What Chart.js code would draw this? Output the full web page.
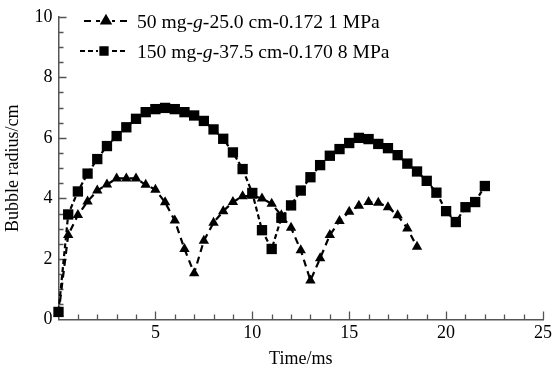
<!DOCTYPE html>
<html lang="en">
<head>
<meta charset="UTF-8" />
<title>Bubble radius vs time</title>
<style>
  html, body { margin: 0; padding: 0; background: #fff; }
  canvas { display: block; }
</style>
<script src="https://cdn.jsdelivr.net/npm/chart.js"></script>
</head>
<body>
<canvas id="chart" width="555" height="372"></canvas>
<script>
// 50 mg-g-25.0 cm-0.172 1 MPa (triangles)
const time50 = [0, 0.5, 1, 1.5, 2, 2.5, 3, 3.5, 4, 4.5, 5, 5.5, 6, 6.5, 7, 7.5, 8, 8.5, 9, 9.5,
  10, 10.5, 11, 11.5, 12, 12.5, 13, 13.5, 14, 14.5, 15, 15.5, 16, 16.5, 17, 17.5, 18, 18.5];
const radius50 = [0.2, 2.79, 3.45, 3.9, 4.26, 4.46, 4.66, 4.66, 4.66, 4.45, 4.29, 3.87, 3.27, 2.33, 1.53, 2.6, 3.2, 3.58, 3.88, 4.07,
  4.09, 4.0, 3.82, 3.44, 3.03, 2.29, 1.29, 2.02, 2.79, 3.25, 3.56, 3.76, 3.88, 3.86, 3.71, 3.44, 3.01, 2.4];

// 150 mg-g-37.5 cm-0.170 8 MPa (squares)
const time150 = [0, 0.5, 1, 1.5, 2, 2.5, 3, 3.5, 4, 4.5, 5, 5.5, 6, 6.5, 7, 7.5, 8, 8.5, 9, 9.5,
  10, 10.5, 11, 11.5, 12, 12.5, 13, 13.5, 14, 14.5, 15, 15.5, 16, 16.5, 17, 17.5, 18, 18.5, 19, 19.5,
  20, 20.5, 21, 21.5, 22];
const radius150 = [0.25, 3.47, 4.23, 4.82, 5.3, 5.73, 6.06, 6.35, 6.63, 6.85, 6.95, 6.99, 6.95, 6.85, 6.74, 6.56, 6.28, 5.97, 5.52, 4.97,
  4.18, 2.95, 2.33, 3.36, 3.77, 4.26, 4.7, 5.1, 5.41, 5.63, 5.83, 6.0, 5.96, 5.8, 5.66, 5.43, 5.15, 4.89, 4.58, 4.19,
  3.58, 3.22, 3.71, 3.88, 4.41];

const xTicks = [5, 10, 15, 20, 25];
const yTicks = [0, 2, 4, 6, 8, 10];

const serif = '"Liberation Serif", "DejaVu Serif", serif';
const axisColor = "#555";

function toPoints(xs, ys) {
  return xs.map((x, i) => ({ x: x, y: ys[i] }));
}

// inward tick marks (minor + major), drawn under the markers
const tickMarks = {
  id: "tickMarks",
  beforeDatasetsDraw(chart) {
    const { ctx, chartArea, scales } = chart;
    ctx.save();
    ctx.strokeStyle = axisColor;
    ctx.lineWidth = 1.3;
    ctx.beginPath();
    for (let t = 1; t <= 25; t++) {
      const x = Math.round(scales.x.getPixelForValue(t)) + 0.5;
      const len = t % 5 === 0 ? 8 : 5;
      ctx.moveTo(x, chartArea.bottom);
      ctx.lineTo(x, chartArea.bottom - len);
    }
    for (let v = 0.5; v <= 10; v += 0.5) {
      const y = Math.round(scales.y.getPixelForValue(v)) + 0.5;
      const len = v % 2 === 0 ? 8 : 5;
      ctx.moveTo(chartArea.left, y);
      ctx.lineTo(chartArea.left + len, y);
    }
    ctx.stroke();
    ctx.restore();
  },
};

// legend with an italic "g"
const legendRows = [
  { parts: ["50 mg-", "g", "-25.0 cm-0.172 1 MPa"], dash: [7, 5], marker: "triangle", y: 21, x0: 84, x1: 128 },
  { parts: ["150 mg-", "g", "-37.5 cm-0.170 8 MPa"], dash: [5, 3], marker: "rect", y: 51, x0: 80, x1: 128 },
];
const customLegend = {
  id: "customLegend",
  afterDraw(chart) {
    const ctx = chart.ctx;
    ctx.save();
    legendRows.forEach((row) => {
      ctx.strokeStyle = "#000";
      ctx.lineWidth = 2.2;
      ctx.setLineDash(row.dash);
      ctx.beginPath();
      ctx.moveTo(row.x0, row.y);
      ctx.lineTo(row.x1, row.y);
      ctx.stroke();
      ctx.setLineDash([]);
      const cx = (row.x0 + row.x1) / 2;
      ctx.fillStyle = "#fff";
      ctx.fillRect(cx - 6, row.y - 6, 12, 12);
      Chart.helpers.drawPoint(ctx, { pointStyle: row.marker, radius: 5, borderWidth: 1 }, cx, row.y);
      ctx.fillStyle = "#000";
      ctx.fill();
      let x = 137;
      ctx.textBaseline = "alphabetic";
      row.parts.forEach((txt, i) => {
        ctx.font = (i === 1 ? "italic " : "") + "19.6px " + serif;
        ctx.fillText(txt, x, row.y + 7);
        x += ctx.measureText(txt).width;
      });
    });
    ctx.restore();
  },
};

new Chart(document.getElementById("chart"), {
  type: "line",
  data: {
    datasets: [
      {
        label: "50 mg-g-25.0 cm-0.172 1 MPa",
        data: toPoints(time50, radius50),
        borderColor: "#000",
        backgroundColor: "#000",
        borderWidth: 2.2,
        borderDash: [7, 5],
        pointStyle: "triangle",
        pointRadius: 6,
        pointBorderWidth: 0,
        tension: 0,
      },
      {
        label: "150 mg-g-37.5 cm-0.170 8 MPa",
        data: toPoints(time150, radius150),
        borderColor: "#000",
        backgroundColor: "#000",
        borderWidth: 2.2,
        borderDash: [5, 3],
        pointStyle: "rect",
        pointRadius: 7.3,
        pointBorderWidth: 0,
        tension: 0,
      },
    ],
  },
  options: {
    responsive: false,
    animation: false,
    clip: false,
    layout: { padding: { top: 15, right: 10, left: 0, bottom: 0 } },
    plugins: {
      legend: { display: false },
      tooltip: { enabled: false },
    },
    scales: {
      x: {
        type: "linear",
        min: 0,
        max: 25,
        afterBuildTicks(scale) {
          scale.ticks = xTicks.map((v) => ({ value: v }));
        },
        afterFit(scale) {
          scale.height = 52.5;
        },
        ticks: {
          color: "#000",
          padding: 3,
          font: { family: serif, size: 18 },
        },
        grid: { display: false, drawTicks: false },
        border: { display: true, color: axisColor, width: 1.5 },
        title: {
          display: true,
          text: "Time/ms",
          color: "#000",
          font: { family: serif, size: 18 },
          padding: { bottom: 2 },
        },
      },
      y: {
        type: "linear",
        min: 0,
        max: 10,
        afterBuildTicks(scale) {
          scale.ticks = yTicks.map((v) => ({ value: v }));
        },
        afterFit(scale) {
          scale.width = 58.5;
        },
        ticks: {
          color: "#000",
          padding: 6,
          font: { family: serif, size: 18 },
        },
        grid: { display: false, drawTicks: false },
        border: { display: true, color: axisColor, width: 1.5 },
        title: {
          display: true,
          text: "Bubble radius/cm",
          color: "#000",
          font: { family: serif, size: 18 },
          padding: { top: 2 },
        },
      },
    },
  },
  plugins: [tickMarks, customLegend],
});
</script>
</body>
</html>
